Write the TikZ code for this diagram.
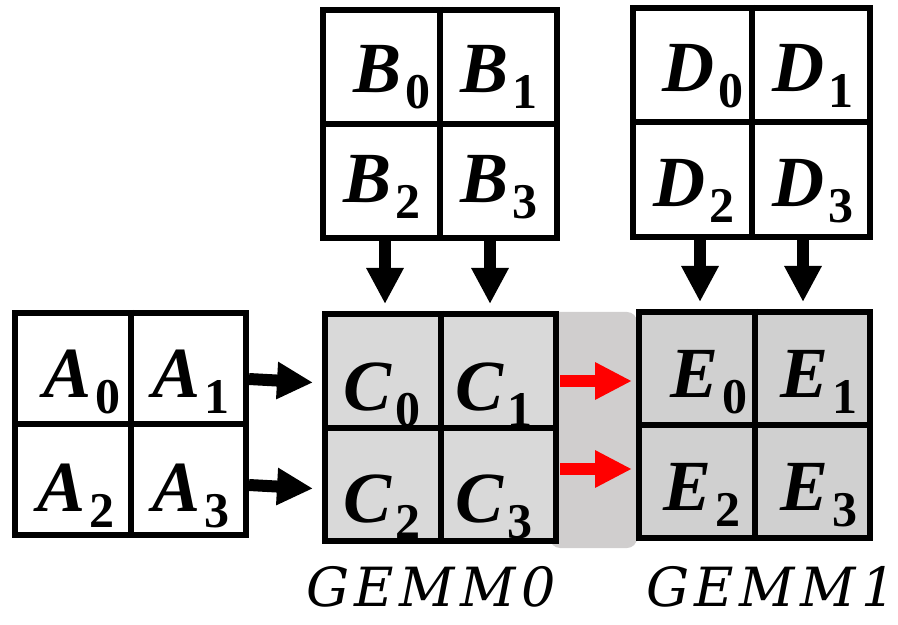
\documentclass[tikz,border=0pt]{standalone}
\usepackage{fontspec}
\setmainfont{Liberation Serif}
\newfontfamily\gemmfont{DejaVu Serif}
\usetikzlibrary{arrows.meta,calc}
\definecolor{cfill}{HTML}{D9D9D9}
\definecolor{efill}{HTML}{D0D0D0}
\definecolor{bgband}{HTML}{D0CECE}
\definecolor{redarrow}{HTML}{FF0000}
\newcommand{\mylbl}[2]{{\fontsize{36}{36}\selectfont\bfseries\itshape #1}\kern2pt\raisebox{-8pt}{\fontsize{25}{25}\selectfont\bfseries #2}}
\newcommand{\gemmtext}[1]{{\gemmfont\fontsize{27}{27}\selectfont\itshape\addfontfeatures{LetterSpace=10}#1}}
\begin{document}
\begin{tikzpicture}[x=0.5pt,y=-0.5pt,
  gridbox/.style={draw=black,line width=3pt,rectangle,inner sep=0pt},
  gridline/.style={line width=3pt},
  celllbl/.style={anchor=base west,inner sep=0pt},
  blkarrow/.style={line width=6pt,-{Triangle[length=18pt,width=17.5pt]}},
  redarr/.style={draw=redarrow,line width=6pt,-{Triangle[length=18.5pt,width=17.5pt]},color=redarrow},
  gemmlbl/.style={anchor=base west,inner sep=0pt}]
\useasboundingbox (0,0) rectangle (898,625);
% background band
\fill[bgband,rounded corners=5pt] (550,312) rectangle (637,548);
% grids
\node[gridbox,minimum width=115.5pt,minimum height=111pt] (A) at (130.5,424) {};
\node[gridbox,minimum width=117pt,minimum height=114pt] (B) at (440,124) {};
\node[gridbox,fill=cfill,minimum width=115.5pt,minimum height=113.5pt] (C) at (440.5,427.5) {};
\node[gridbox,minimum width=118.5pt,minimum height=114.5pt] (D) at (751.5,122.5) {};
\node[gridbox,fill=efill,minimum width=115.5pt,minimum height=113pt] (E) at (754.5,425) {};
\foreach \g in {A,B,C,D,E}{
  \draw[gridline] (\g.north) -- (\g.south);
  \draw[gridline] (\g.west) -- (\g.east);
}
% labels
\node[celllbl] (a0) at (43,397) {\mylbl{A}{0}};
\node[celllbl] (a1) at (152,397) {\mylbl{A}{1}};
\node[celllbl] (a2) at (37,511) {\mylbl{A}{2}};
\node[celllbl] (a3) at (152,511) {\mylbl{A}{3}};
\node[celllbl] (b0) at (353,93) {\mylbl{B}{0}};
\node[celllbl] (b1) at (460,93) {\mylbl{B}{1}};
\node[celllbl] (b2) at (343,203) {\mylbl{B}{2}};
\node[celllbl] (b3) at (460,203) {\mylbl{B}{3}};
\node[celllbl] (c0) at (343,410) {\mylbl{C}{0}};
\node[celllbl] (c1) at (455,410) {\mylbl{C}{1}};
\node[celllbl] (c2) at (343,522) {\mylbl{C}{2}};
\node[celllbl] (c3) at (455,522) {\mylbl{C}{3}};
\node[celllbl] (d0) at (662,92) {\mylbl{D}{0}};
\node[celllbl] (d1) at (772,92) {\mylbl{D}{1}};
\node[celllbl] (d2) at (653,207) {\mylbl{D}{2}};
\node[celllbl] (d3) at (772,207) {\mylbl{D}{3}};
\node[celllbl] (e0) at (670,397) {\mylbl{E}{0}};
\node[celllbl] (e1) at (780,397) {\mylbl{E}{1}};
\node[celllbl] (e2) at (663,510) {\mylbl{E}{2}};
\node[celllbl] (e3) at (780,510) {\mylbl{E}{3}};
% arrows A -> C
\draw[blkarrow] ($(A.east)+(0,-45)$) -- ($(C.west)+(-9,-45)$);
\draw[blkarrow] ($(A.east)+(0,61)$) -- ($(C.west)+(-9,61)$);
% arrows B -> C
\draw[blkarrow] ($(B.south)+(-55,0)$) -- ($(C.north)+(-55.5,-7)$);
\draw[blkarrow] ($(B.south)+(50,0)$) -- ($(C.north)+(49.5,-7)$);
% arrows D -> E
\draw[blkarrow] ($(D.south)+(-51.5,0)$) -- ($(E.north)+(-54.5,-7)$);
\draw[blkarrow] ($(D.south)+(51.5,0)$) -- ($(E.north)+(48.5,-7)$);
% red arrows C -> E
\draw[redarr] ($(C.east)+(1,-46.5)$) -- ($(E.west)+(-4,-44)$);
\draw[redarr] ($(C.east)+(1,41.5)$) -- ($(E.west)+(-4,44)$);
% GEMM labels
\node[gemmlbl] (g0) at (306,606) {\gemmtext{GEMM0}};
\node[gemmlbl] (g1) at (646,606) {\gemmtext{GEMM1}};
\end{tikzpicture}
\end{document}
